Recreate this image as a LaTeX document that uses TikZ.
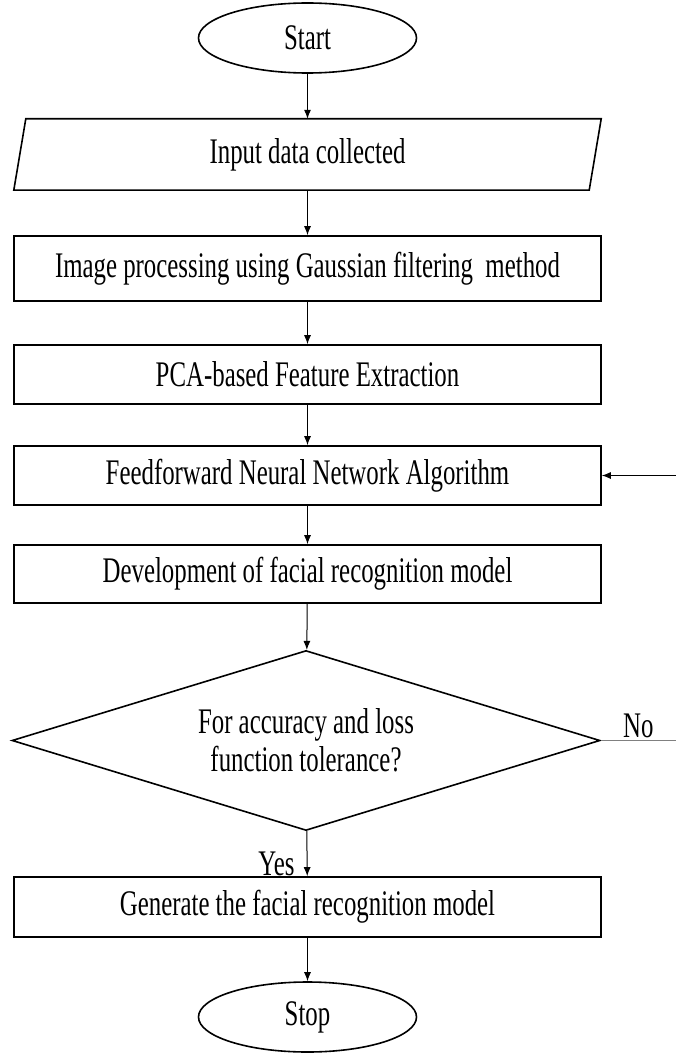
\documentclass[tikz,border=0pt]{standalone}
\usepackage{fontspec}
\setmainfont[FakeStretch=0.69]{Liberation Serif}
\usetikzlibrary{shapes.geometric,arrows.meta}
\begin{document}
\begin{tikzpicture}[x=1pt,y=-1pt,>={Latex[length=9pt,width=7pt]},every node/.style={font=\fontsize{36}{38}\selectfont},end node/.style={ellipse,draw,line width=1.6pt,minimum width=218pt,minimum height=70pt,inner sep=0pt},main node/.style={rectangle,draw,line width=1.6pt,minimum width=587pt,minimum height=59pt,inner sep=0pt},test node/.style={diamond,draw,line width=1.6pt,shape aspect=3.27,minimum width=588pt,minimum height=180pt,inner sep=0pt,align=center}]
                \useasboundingbox (0,0) rectangle (676,1059);
                \node[end node] (1) at (307.5,38) {Start};
                \node[minimum width=575pt,minimum height=71pt,inner sep=0pt] (2) at (307.5,154.5) {Input data collected};
                \draw[line width=1.6pt] ([xshift=6pt]2.north west) -- ([xshift=6pt]2.north east) -- ([xshift=-6pt]2.south east) -- ([xshift=-6pt]2.south west) -- cycle;
                \node[main node,minimum height=65pt] (3) at (307.5,268.5) {Image processing using Gaussian filtering~ method};
                \node[main node] (4) at (307.5,374.5) {PCA-based Feature Extraction};
                \node[main node] (5) at (307.5,475.5) {Feedforward Neural Network Algorithm};
                \node[main node,minimum height=58pt] (6) at (307.5,574) {Development of facial recognition model};
                \node[test node] (7) at (306,740.5) {For accuracy and loss\\function tolerance?};
                \node[main node,minimum height=60pt] (8) at (307.5,907) {Generate the facial recognition model};
                \node[end node] (9) at (307.5,1017) {Stop};
                \coordinate (10) at (676,740.5);
                \coordinate (11) at (676,475.5);

                \path[->,line width=1pt]
                    (1) edge (2)
                    (2) edge (3)
                    (3) edge (4)
                    (4) edge (5)
                    (5) edge (6)
                    (6) edge (7)
                    (7) edge node[left,pos=0.72,inner xsep=12pt,inner ysep=2pt] {Yes} (8)
                    (8) edge (9)
                    (11) edge (5)
                    (7) edge[-,draw=gray] node[above,inner sep=2pt] {No} (10)
                    ;
            \end{tikzpicture}
\end{document}
